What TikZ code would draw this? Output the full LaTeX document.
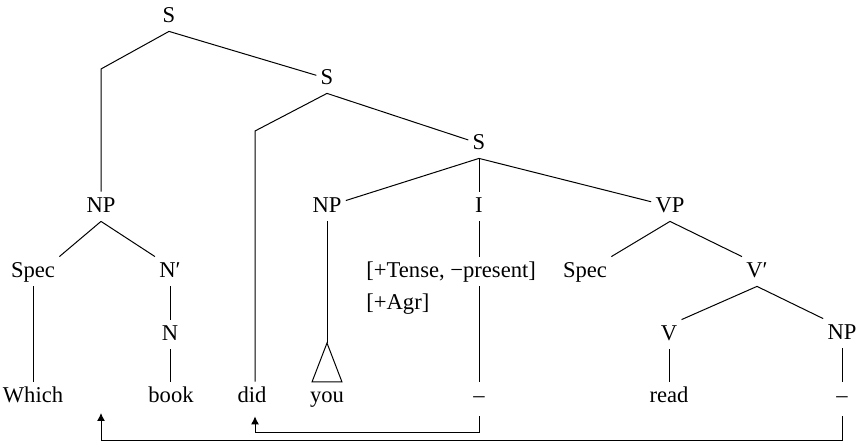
\documentclass[tikz,border=0pt]{standalone}
\usepackage{fontspec}
\setmainfont{Liberation Serif}
\usetikzlibrary{arrows.meta}
\begin{document}
\begin{tikzpicture}[x=0.5pt,y=-0.5pt,
  lab/.style={anchor=base, inner xsep=2pt, inner ysep=3pt, text height=7.5pt, text depth=1pt, font=\fontsize{11.3}{13.5}\selectfont},
  feat/.style={lab, anchor=base west},
  edge/.style={line width=0.5pt},
  mv/.style={line width=0.5pt, -{Latex[length=4pt,width=4pt]}, shorten <=2.5pt}]
\useasboundingbox (0,0) rectangle (864,443);
% nodes
\node[lab] (S1) at (169,23) {S};
\node[lab] (S2) at (327,85) {S};
\node[lab] (S3) at (479,150) {S};
\node[lab] (NP1) at (101,213) {NP};
\node[lab] (NP2) at (327,213) {NP};
\node[lab] (I) at (479,213) {I};
\node[lab] (VP) at (670,213) {VP};
\node[lab] (Spec1) at (33,278) {Spec};
\node[lab] (Nb) at (170,278) {N′};
\node[feat] (f1) at (362,278) {[+Tense, −present]};
\node[feat] (f2) at (362,310) {[+Agr]};
\node[lab] (Spec2) at (585,278) {Spec};
\node[lab] (Vb) at (757,278) {V′};
\node[lab] (N) at (170,341) {N};
\node[lab] (V) at (669,341) {V};
\node[lab] (NP3) at (842,340) {NP};
\node[lab] (w1) at (33,403) {Which};
\node[lab] (w2) at (171,403) {book};
\node[lab] (w3) at (252,403) {did};
\node[lab] (w4) at (327,403) {you};
\node[lab] (t1) at (479,403) {–};
\node[lab] (w5) at (669,403) {read};
\node[lab] (t2) at (842,403) {–};
% free coordinates
\coordinate (b1) at (101,69);
\coordinate (b2) at (255,131);
\coordinate (tri) at (327,343);
\coordinate (gap) at (101,413);
% tree edges
\draw[edge] (S1.south) -- (b1) -- (b1 |- NP1.north);
\draw[edge] (S1.south) -- (S2);
\draw[edge] (S2.south) -- (b2) -- (b2 |- w3.north);
\draw[edge] (S2.south) -- (S3);
\draw[edge] (S3.south) -- (NP2);
\draw[edge] (S3.south) -- (I.north);
\draw[edge] (S3.south) -- (VP);
\draw[edge] (NP1.south) -- (Spec1.north east);
\draw[edge] (NP1.south) -- (Nb.north west);
\draw[edge] (Spec1.south) -- (w1.north);
\draw[edge] (Nb.south) -- (N.north);
\draw[edge] (N.south) -- (N.south |- w2.north);
\draw[edge] (NP2.south) -- (tri);
\draw[edge] (tri) -- ++(-15,39) -- ++(30,0) -- cycle;
\draw[edge] (I.south) -- (I.south |- f1.north);
\draw[edge] (I.south |- f1.south) -- (I.south |- t1.north);
\draw[edge] (VP.south) -- (Spec2.north east);
\draw[edge] (VP.south) -- (Vb.north west);
\draw[edge] (Vb.south) -- (V.north east);
\draw[edge] (Vb.south) -- (NP3.north west);
\draw[edge] (V.south) -- (w5.north);
\draw[edge] (NP3.south) -- (t2.north);
% movement arrows
\draw[mv, shorten >=2.5pt] (t1.south) -- ++(0,21) -| (b2 |- w3.south);
\draw[mv] (t2.south) -- ++(0,29) -| (gap);
\end{tikzpicture}
\end{document}
